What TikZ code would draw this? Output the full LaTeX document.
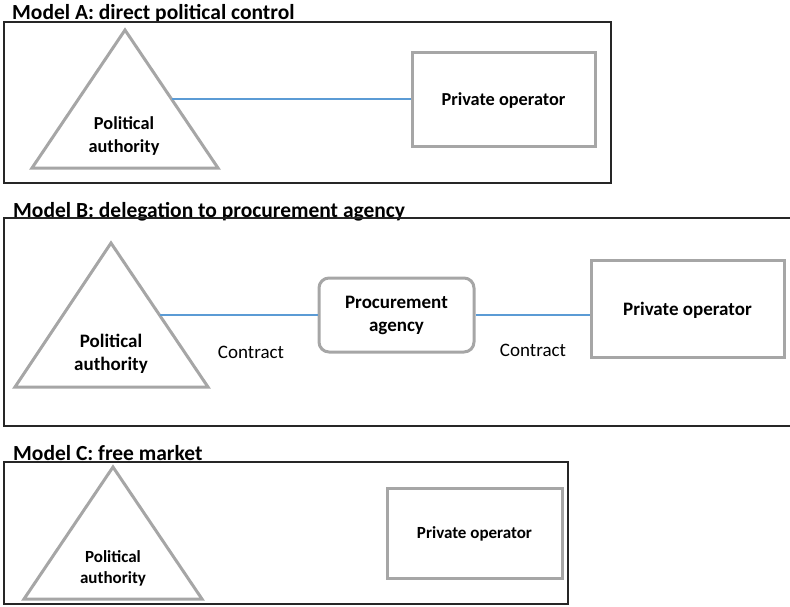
\documentclass[tikz,border=0pt]{standalone}
\usepackage{fontspec}
\setmainfont{Carlito}
\usetikzlibrary{calc}
\definecolor{boxgray}{RGB}{166,166,166}
\definecolor{linkblue}{RGB}{91,155,213}
\begin{document}
\begin{tikzpicture}[x=1pt,y=-1pt,
  frame/.style={draw=black!85, line width=1.3pt},
  shapebox/.style={draw=boxgray, line width=3pt, fill=white},
  title/.style={font=\bfseries\fontsize{21.5}{24}\selectfont, anchor=west, inner sep=0pt},
  lblA/.style={font=\bfseries\fontsize{18.3}{23}\selectfont, align=center, inner sep=0pt},
  lblB/.style={font=\bfseries\fontsize{19}{23}\selectfont, align=center, inner sep=0pt},
  lblC/.style={font=\bfseries\fontsize{17}{21}\selectfont, align=center, inner sep=0pt},
  contract/.style={font=\fontsize{19}{22}\selectfont, inner sep=0pt},
  link/.style={draw=linkblue, line width=2pt}]
\useasboundingbox (0,0) rectangle (790,606);

% ---------------- Model A ----------------
\node[title] (tA) at (12,14) {Model A: direct political control};
\draw[frame] (4,22) rectangle (611,183);
\coordinate (Atop) at (125,30);
\coordinate (Abr) at (218,168);
\coordinate (Abl) at (32,168);
\draw[shapebox, line join=miter] (Atop) -- (Abr) -- (Abl) -- cycle;
\coordinate (Aedge) at ($(Atop)!0.5!(Abr)$);
\node[lblA] (paA) at (124,135.5) {Political\\authority};
\node[shapebox, lblA, text depth=0pt, minimum width=183pt, minimum height=94pt] (poA) at (503.5,99) {Private operator};
\draw[link] (Aedge) -- (poA.west);

% ---------------- Model B ----------------
\node[title] (tB) at (13,212) {Model B: delegation to procurement agency};
\draw[frame] (4,218) rectangle (796,426);
\coordinate (Btop) at (111,243);
\coordinate (Bbr) at (208,387);
\coordinate (Bbl) at (15,387);
\draw[shapebox, line join=miter] (Btop) -- (Bbr) -- (Bbl) -- cycle;
\coordinate (Bedge) at ($(Btop)!0.5!(Bbr)$);
\node[lblB] (paB) at (111,353.5) {Political\\authority};
\node[shapebox, lblB, rounded corners=10pt, minimum width=155pt, minimum height=74pt] (agB) at (396.5,315) {Procurement\\agency};
\node[shapebox, lblB, text depth=0pt, minimum width=193pt, minimum height=97pt] (poB) at (687.5,308.5) {Private operator};
\draw[link] (Bedge) -- (Bedge -| agB.west);
\draw[link] (agB.east) -- (agB.east -| poB.west);
\node[contract] (cB1) at (251,352) {Contract};
\node[contract] (cB2) at (533,350) {Contract};

% ---------------- Model C ----------------
\node[title] (tC) at (13,453) {Model C: free market};
\draw[frame] (4,462) rectangle (568,604);
\coordinate (Ctop) at (113,467);
\coordinate (Cbr) at (202,599);
\coordinate (Cbl) at (24,599);
\draw[shapebox, line join=miter] (Ctop) -- (Cbr) -- (Cbl) -- cycle;
\node[lblC] (paC) at (113,568.5) {Political\\authority};
\node[shapebox, lblC, text depth=0pt, minimum width=175pt, minimum height=90pt] (poC) at (474.5,533) {Private operator};
\end{tikzpicture}
\end{document}
